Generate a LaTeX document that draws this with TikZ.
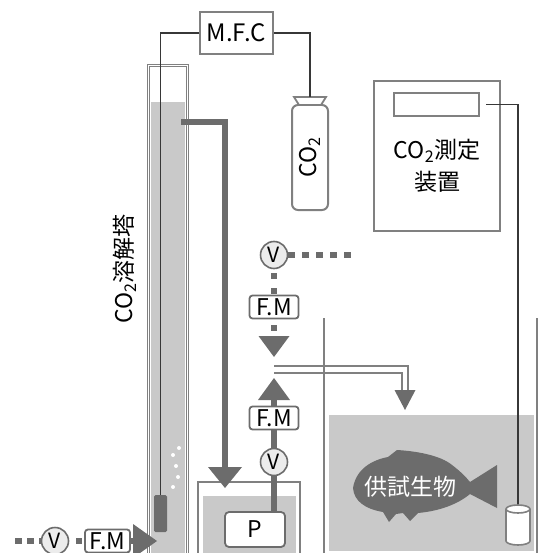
\documentclass[tikz,border=0pt]{standalone}
\usepackage{fontspec}
\setmainfont{Noto Sans CJK JP}
\usetikzlibrary{arrows.meta,positioning,calc,shapes.geometric}
\definecolor{tankdark}{RGB}{108,108,108}
\definecolor{tankgray}{RGB}{128,128,128}
\definecolor{tanklight}{RGB}{201,201,201}
\definecolor{tankvalve}{RGB}{236,236,236}
\definecolor{tankwire}{RGB}{55,55,55}
\newcommand{\pxfont}[1]{\fontsize{#1pt}{#1pt}\selectfont}

\begin{document}
\begin{tikzpicture}[x=1pt,y=-1pt,
    font=\pxfont{23},
    unit/.style={draw=tankgray, line width=2pt, fill=white, inner sep=0pt},
    fm/.style={draw=tankdark, line width=1.8pt, rounded corners=3pt, fill=white, minimum width=49pt, minimum height=23pt, inner sep=0pt, font=\pxfont{23}},
    valve/.style={circle, draw=tankdark, line width=1.6pt, fill=tankvalve, minimum size=27pt, inner sep=0pt, font=\pxfont{21}},
    pipe/.style={draw=tankdark, line width=6.5pt},
    sqdash/.style={draw=tankdark, line width=6pt},
    wire/.style={draw=tankwire, line width=1.2pt},
    wall/.style={draw=tankgray, line width=2pt},
    dblpipe/.style={draw=tankgray, line width=1.8pt, double=white, double distance=4.5pt}
  ]
    \useasboundingbox (0,0) rectangle (538,553);
    \clip (0,0) rectangle (538,553);

    \fill[tanklight] (151,102) rectangle (185,560);
    \fill[tanklight] (203,496) rectangle (296,560);
    \fill[tanklight] (329,415) rectangle (534,551);

    \draw[draw=tankgray, line width=1pt, double=white, double distance=1.6pt] (148.5,65.5) rectangle (187.5,580);
    \node[rotate=90] (towerlabel) at (125,269) {CO\textsubscript{2}溶解塔};
    \foreach \bx/\by in {179/448,173/455,176/466,178/477,173/487}
      \fill[white] (\bx,\by) circle[radius=2];
    \node[fill=tankdark, rounded corners=1.5pt, minimum width=13pt, minimum height=37pt, inner sep=0pt] (diffuser) at (160.5,513.5) {};

    \node[unit, minimum width=73pt, minimum height=42pt, font=\pxfont{24}] (mfc) at (236.5,33) {M.F.C};
    \node[unit, rounded corners=6pt, rotate=90, minimum width=105pt, minimum height=36pt] (bottle) at (310,157.5) {CO\textsubscript{2}};
    \draw[draw=tankgray, line width=1.8pt, fill=white] (294,97) -- (326,97) -- (321,105) -- (299,105) -- cycle;
    \coordinate (cap) at (310,97);

    \node[unit, minimum width=126pt, minimum height=150pt] (meter) at (437,156) {};
    \node[draw=tankgray, line width=2pt, minimum width=85pt, minimum height=23pt, inner sep=0pt] (display) at (436.5,104.5) {};
    \node[align=center, font=\fontsize{23pt}{32pt}\selectfont] (meterlabel) at (437,166) {CO\textsubscript{2}測定\\装置};

    \coordinate (sensor) at (518,505);
    \draw[wire] (mfc.west) -| (diffuser.north);
    \draw[wire] (mfc.east) -| (cap);
    \draw[wire] ([xshift=6pt]display.east) -| (sensor);

    \draw[wall] (198,560) |- (300,482) -- (300,560);
    \node[fm, minimum width=60pt, minimum height=35pt, rounded corners=4pt] (pump) at (255,529.5) {P};

    \coordinate (towerout) at (181,122);
    \coordinate (tankin) at (225,488);
    \draw[pipe, -{Triangle[width=34pt,length=21pt,line width=0pt]}] (towerout) -| (tankin);

    \node[valve] (valve2) at (274,462) {V};
    \node[fm] (fm2) at (274,418) {F.M};
    \coordinate (uptip) at (274,378);
    \draw[pipe] (valve2 |- pump.north) -- (valve2);
    \draw[pipe] (valve2) -- (fm2);
    \draw[pipe, -{Triangle[width=32pt,length=22pt,line width=0pt]}] (fm2) -- (uptip);

    \node[valve] (valve1) at (274,255) {V};
    \node[fm] (fm1) at (274,307) {F.M};
    \coordinate (supply) at (352,255);
    \coordinate (downtip) at (274,357);
    \draw[sqdash, dash pattern=on 7pt off 7pt] (valve1) -- (supply);
    \draw[sqdash, dash pattern=on 6pt off 9pt, dash phase=11pt] (valve1) -- (fm1);
    \draw[sqdash, dash pattern=on 6pt off 9pt, dash phase=9pt, -{Triangle[width=31pt,length=21pt,line width=0pt]}] (fm1) -- (downtip);

    \coordinate (junction) at (274,369.5);
    \coordinate (fishin) at (405,390);
    \coordinate (fishtip) at (405,410);
    \draw[dblpipe] (junction) -| (fishin);
    \draw[draw=tankdark, line width=1pt, -{Triangle[width=21pt,length=20pt,line width=0pt]}] (fishin) -- (fishtip);

    \draw[wall] (324,318) -- (324,560);
    \draw[wall] (537,318) -- (537,560);

    \fill[tankdark] (353,488)
      .. controls (356,469) and (372,460) .. (388,457)
      -- (397,450)
      .. controls (415,451) and (440,455) .. (452,465)
      .. controls (460,471) and (466,477) .. (470,482)
      -- (497,465) -- (497,508) -- (470,494)
      .. controls (458,504) and (440,511) .. (418,513)
      -- (410,521) -- (403,513) -- (396,514) -- (389,522) -- (383,512)
      .. controls (365,509) and (354,501) .. (353,488) -- cycle;
    \node[text=white] (fishlabel) at (410,487) {供試生物};

    \draw[draw=tankgray, line width=1.6pt, fill=white] (506,509) -- (506,541) arc[start angle=180, end angle=0, x radius=12, y radius=4] -- (530,509);
    \draw[draw=tankgray, line width=1.6pt, fill=white] (518,509) ellipse[x radius=12, y radius=4];

    \coordinate (airin) at (15,541);
    \node[valve] (valve0) at (55,541) {V};
    \node[fm, minimum width=45pt] (fm0) at (107.5,541) {F.M};
    \coordinate (airtip) at (157,541);
    \draw[sqdash, dash pattern=on 7pt off 5pt] (airin) -- (valve0);
    \draw[sqdash, dash pattern=on 6pt off 7pt, dash phase=6pt] (valve0) -- (fm0);
    \draw[sqdash, -{Triangle[width=34pt,length=24pt,line width=0pt]}] (fm0) -- (airtip);
\end{tikzpicture}
\end{document}
